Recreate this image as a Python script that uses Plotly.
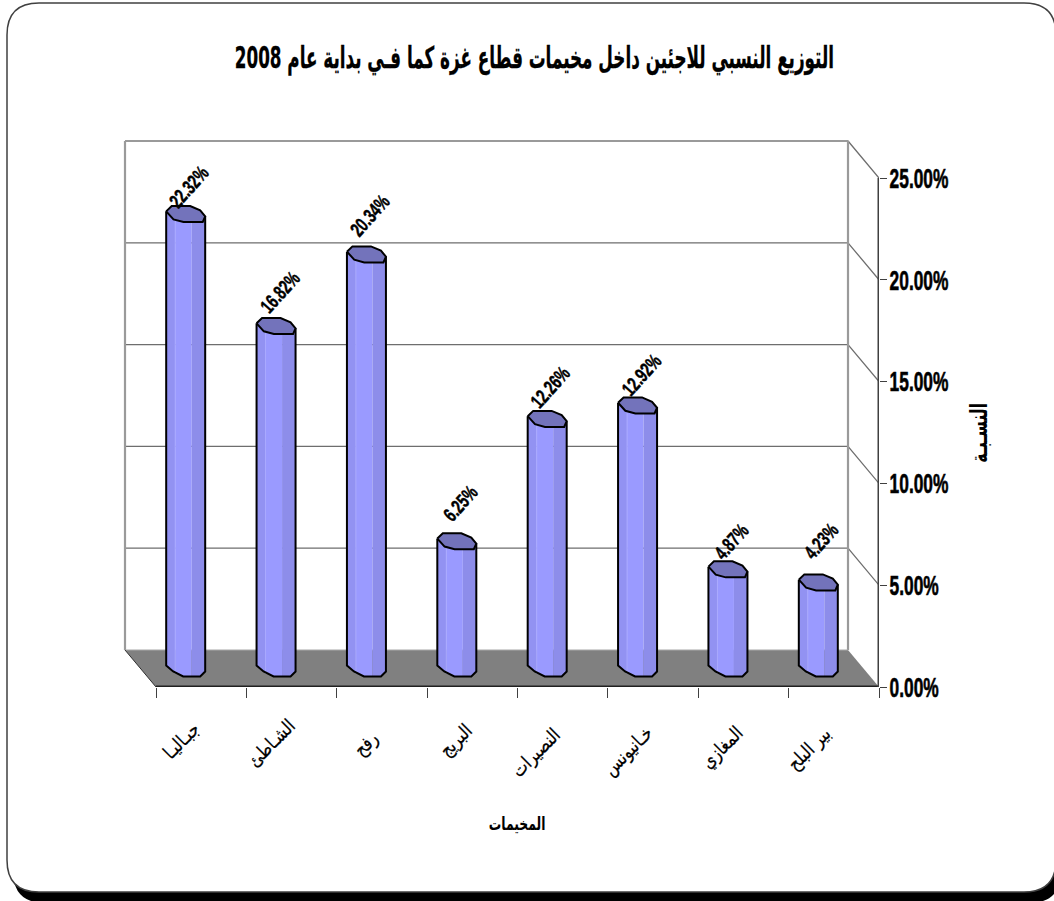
import json
import plotly.graph_objects as go

# Refugee share per camp, Gaza Strip, start of 2008
camps = ["جبـاليـا", "الشـاطئ", "رفح", "البريج", "النصيرات", "خـانيونس", "المغازي", "بير البلح"]
shares = [22.32, 16.82, 20.34, 6.25, 12.26, 12.92, 4.87, 4.23]
y_ticks = [0, 5, 10, 15, 20, 25]
y_tick_labels = ["0.00%", "5.00%", "10.00%", "15.00%", "20.00%", "25.00%"]
title_text = "التوزيع النسبي للاجئين داخل مخيمات قطاع غزة كما فـي بداية عام 2008"
x_title = "المخيمات"
y_title = "النسـبـة"

W, H = 1054, 901
LEFT, RIGHT, TOP, BOTTOM = 156, 879, 178, 687
DEPTH_PX_X, DEPTH_PX_Y = 31, 37
PAD = 3
n = len(camps)
PX_X = (RIGHT - LEFT) / n
PX_Y = (BOTTOM - TOP) / y_ticks[-1]
DEPTH_X, DEPTH_Y = -DEPTH_PX_X / PX_X, DEPTH_PX_Y / PX_Y
LATIN = "Liberation Sans, Arial, sans-serif"
ARABIC = "DejaVu Sans, sans-serif"


def ux(px):
    return px / PX_X


def uy(px):
    return px / PX_Y


def poly(xs, ys, fill=None, line=None, width=0):
    return go.Scatter(
        x=xs, y=ys, mode="lines", hoverinfo="skip", showlegend=False,
        fill="toself" if fill else None, fillcolor=fill,
        line=dict(color=line or "rgba(0,0,0,0)", width=width),
    )


fig = go.Figure()
y_max = y_ticks[-1]

# Floor of the 3D box
fig.add_trace(poly([DEPTH_X, n + DEPTH_X, n, 0, DEPTH_X],
                   [DEPTH_Y, DEPTH_Y, 0, 0, DEPTH_Y], fill="#808080"))

# Gridlines across the back wall and down the side wall
for t in y_ticks[1:]:
    fig.add_trace(poly([DEPTH_X, n + DEPTH_X, n],
                       [t + DEPTH_Y, t + DEPTH_Y, t], line="#6e6e6e", width=1.3))
fig.add_trace(poly([DEPTH_X, n + DEPTH_X], [y_max + DEPTH_Y] * 2, line="#9a9a9a", width=2.2))
for x_wall in (DEPTH_X, n + DEPTH_X):
    fig.add_trace(poly([x_wall, x_wall], [DEPTH_Y, y_max + DEPTH_Y], line="#9a9a9a", width=2.2))
fig.add_trace(poly([DEPTH_X, n + DEPTH_X], [DEPTH_Y, DEPTH_Y], line="#a8a8a8", width=1.2))
fig.add_trace(poly([DEPTH_X, 0], [DEPTH_Y, 0], line="#303030", width=1))
fig.add_trace(poly([0, n], [0, 0], line="#202020", width=3))
fig.add_trace(poly([n, n], [0, y_max], line="#404040", width=3))

# Outline points of the faceted column, as pixel offsets from its axis
TOP_CAP = [(-19.5, -2.7), (-14, -8), (4.5, -8), (14.5, -3.7), (19.5, 2.3),
           (17, 8), (-2.2, 8), (-12.2, 5.3)]
BASE_L = [(-19.5, -3), (-12.5, 3), (-10.5, 4)]
BASE_C = [(-10.5, 4), (-2.5, 8), (6, 8)]
BASE_R = [(6, 8), (14.5, 8), (19.5, 3)]
FACETS = [
    (BASE_L, "#9292f2", -2.7, 5.3),
    (BASE_C, "#9a9aff", 5.3, 8),
    (BASE_R, "#8d8dea", 8, 2.3),
]
HALF_W = 19.5

for i, v in enumerate(shares):
    cx = i + 0.5 + DEPTH_X / 2
    b = DEPTH_Y / 2
    t = v + DEPTH_Y / 2

    # Body: left, centre and right facets
    for base, colour, d0, d1 in FACETS:
        xs = [cx + ux(base[0][0]), cx + ux(base[-1][0])]
        ys = [t - uy(d0), t - uy(d1)]
        xs += [cx + ux(p[0]) for p in reversed(base)] + [xs[0]]
        ys += [b - uy(p[1]) for p in reversed(base)] + [ys[0]]
        fig.add_trace(poly(xs, ys, fill=colour))
    fig.add_trace(poly([cx + ux(-HALF_W + 9)] * 2, [t - uy(6), b - uy(5)], line="#a9a9ff", width=1))

    # Black outline of the sides and base
    outline = BASE_L + BASE_C[1:] + BASE_R[1:]
    side_x = [cx + ux(-HALF_W)] + [cx + ux(p[0]) for p in outline] + [cx + ux(HALF_W)]
    side_y = [t - uy(TOP_CAP[0][1])] + [b - uy(p[1]) for p in outline] + [t - uy(TOP_CAP[4][1])]
    fig.add_trace(poly(side_x, side_y, line="#000000", width=2))

    # Top cap
    cap_x = [cx + ux(p[0]) for p in TOP_CAP] + [cx + ux(TOP_CAP[0][0])]
    cap_y = [t - uy(p[1]) for p in TOP_CAP] + [t - uy(TOP_CAP[0][1])]
    fig.add_trace(poly(cap_x, cap_y, fill="#7373bb", line="#000000", width=2))

# Each annotation keeps its condensing factor and stroke weight, applied once the page is drawn
annotations = []
squeeze = {}


def annotate(factor=1.0, stroke=0.0, **kw):
    squeeze[len(annotations)] = [factor, stroke]
    annotations.append(dict(showarrow=False, xanchor="center", yanchor="middle", **kw))


# Value labels, rotated above each column
label_shift = [(3, -27), (4, -34), (4, -39), (4, -38), (3, -32), (4, -30), (4, -28), (3, -41)]
for i, (v, (sx, sy)) in enumerate(zip(shares, label_shift)):
    annotate(0.7, 0.45, x=i + 0.5 + DEPTH_X / 2, y=v + DEPTH_Y / 2, xref="x", yref="y",
             xshift=sx, yshift=-sy, textangle=-48, text=f"<b>{v:.2f}%</b>",
             font=dict(family=LATIN, size=20, color="#000000"))

# Rotated camp names under the floor
name_shift = [(-20, -53), (-21, -56), (-16, -56), (-17, -53), (-27, -65), (-26, -64), (-22, -60), (-25, -61)]
for i, (name, (sx, sy)) in enumerate(zip(camps, name_shift)):
    annotate(0.82, 0.25, x=i + 0.5, y=0, xref="x", yref="y", xshift=sx, yshift=sy,
             textangle=-45, text=name, font=dict(family=ARABIC, size=19, color="#000000"))

annotate(0.69, 0.0, x=517 / W, y=1 - 823 / H, xref="paper", yref="paper", text=f"<b>{x_title}</b>",
         font=dict(family=ARABIC, size=18, color="#000000"))
annotate(0.65, 0.0, x=979 / W, y=1 - 433 / H, xref="paper", yref="paper", textangle=-90,
         text=f"<b>{y_title}</b>", font=dict(family=ARABIC, size=24, color="#000000"))
annotate(0.56, 0.3, x=534 / W, y=1 - 58 / H, xref="paper", yref="paper", text=f"<b>{title_text}</b>",
         font=dict(family=ARABIC, size=30, color="#000000"))


def rounded(x0, y0, x1, y1, r):
    xa, xb = x0 / W, x1 / W
    ya, yb = 1 - y0 / H, 1 - y1 / H
    rx, ry = r / W, r / H
    return (f"M {xa + rx} {ya} L {xb - rx} {ya} Q {xb} {ya} {xb} {ya - ry} "
            f"L {xb} {yb + ry} Q {xb} {yb} {xb - rx} {yb} "
            f"L {xa + rx} {yb} Q {xa} {yb} {xa} {yb + ry} "
            f"L {xa} {ya - ry} Q {xa} {ya} {xa + rx} {ya} Z")


# Rounded page frame with a hard black shadow
shapes = [
    dict(type="path", xref="paper", yref="paper", layer="below",
         path=rounded(13, 12, 1061, 903, 32), fillcolor="#000000", line=dict(width=0)),
    dict(type="path", xref="paper", yref="paper", layer="below",
         path=rounded(7, 3, 1056, 892, 32), fillcolor="#ffffff",
         line=dict(color="#404040", width=1.5)),
]

fig.update_layout(
    width=W, height=H,
    margin=dict(l=0, r=0, t=0, b=0, autoexpand=False),
    paper_bgcolor="#ffffff", plot_bgcolor="rgba(0,0,0,0)",
    showlegend=False, annotations=annotations, shapes=shapes,
    xaxis=dict(
        domain=[(LEFT - DEPTH_PX_X - PAD) / W, RIGHT / W], range=[DEPTH_X - ux(PAD), n], fixedrange=True,
        automargin=False, showgrid=False, zeroline=False, showline=False,
        tickmode="array", tickvals=list(range(n + 1)), ticktext=[""] * (n + 1),
        ticks="outside", ticklen=10, tickwidth=1, tickcolor="#404040",
    ),
    yaxis=dict(
        domain=[1 - BOTTOM / H, 1 - (TOP - DEPTH_PX_Y - PAD) / H],
        range=[0, y_max + DEPTH_Y + uy(PAD)], fixedrange=True,
        automargin=False, side="right", showgrid=False, zeroline=False, showline=False,
        tickmode="array", tickvals=y_ticks, ticktext=[f"<b>{s}</b>" for s in y_tick_labels],
        ticks="outside", ticklen=7, tickwidth=1, tickcolor="#404040", ticklabelstandoff=-3,
        tickfont=dict(family=LATIN, size=28, color="#000000"),
    ),
)

# Condense the heavy labels horizontally, since no narrow bold face is installed
condense_js = """
var gd = document.getElementById('{plot_id}');
function narrow(el, f, anchorLeft, stroke) {
  var box = el.getBBox();
  var px = anchorLeft ? box.x : box.x + box.width / 2;
  var old = el.getAttribute('transform') || '';
  el.setAttribute('transform', old + ' translate(' + px + ' 0) scale(' + f + ' 1) translate(' + (-px) + ' 0)');
  if (stroke) { el.style.stroke = '#000'; el.style.strokeWidth = stroke + 'px'; }
}
gd.querySelectorAll('.ytick text').forEach(function (el) { narrow(el, TICK_F, true, 0.6); });
var factors = FACTORS;
gd.querySelectorAll('g.annotation').forEach(function (g) {
  var f = factors[g.getAttribute('data-index')];
  var t = g.querySelector('text');
  if (t && f) { narrow(t, f[0], false, f[1]); }
});
""".replace("TICK_F", "0.62").replace("FACTORS", json.dumps(squeeze))

fig.write_html("out.html", config={"displayModeBar": False}, post_script=condense_js)
